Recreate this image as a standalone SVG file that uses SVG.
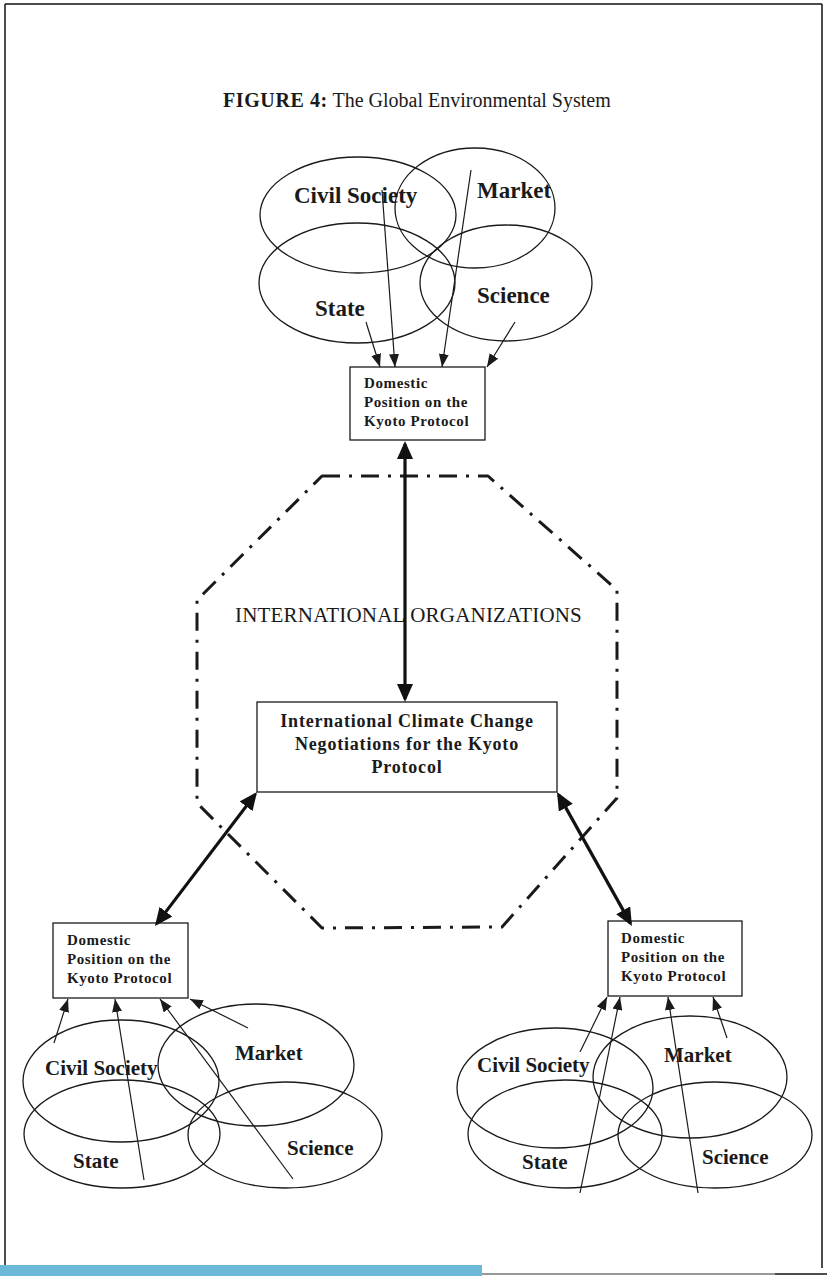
<svg xmlns="http://www.w3.org/2000/svg" width="827" height="1276" viewBox="0 0 827 1276">
<style>
.ell{fill:none;stroke:#1a1a1a;stroke-width:1.3}
.box{fill:#fff;stroke:#1a1a1a;stroke-width:1.3}
.thin{fill:none;stroke:#1a1a1a;stroke-width:1.2}
.thick{fill:none;stroke:#111;stroke-width:3.2}
.lbl{font-family:"Liberation Serif","Times New Roman",serif;font-weight:bold;fill:#1a1a1a}
.big{font-size:23px}
.small{font-size:21px}
.dom{font-family:"Liberation Serif","Times New Roman",serif;font-weight:bold;font-size:15px;letter-spacing:0.6px;fill:#1a1a1a}
.main{font-family:"Liberation Serif","Times New Roman",serif;font-weight:bold;font-size:18px;letter-spacing:0.8px;fill:#1a1a1a}
.io{font-family:"Liberation Serif","Times New Roman",serif;font-size:21px;letter-spacing:0.2px;fill:#1a1a1a}
.title{font-family:"Liberation Serif","Times New Roman",serif;font-size:20px;fill:#1a1a1a}
.oct{fill:none;stroke:#1a1a1a;stroke-width:3;stroke-dasharray:18 9 3 9;stroke-linejoin:round}
</style>
<defs>
<marker id="ah" markerUnits="userSpaceOnUse" markerWidth="13" markerHeight="10" refX="13" refY="5" orient="auto">
<path d="M0,0 L13,5 L0,10 z" fill="#1a1a1a"/>
</marker>
<marker id="bh" markerUnits="userSpaceOnUse" markerWidth="18" markerHeight="16" refX="15" refY="8" orient="auto-start-reverse">
<path d="M0,0 L18,8 L0,16 z" fill="#111"/>
</marker>
</defs>
<rect width="827" height="1276" fill="#fff"/>
<g id="page-frame">
<line x1="5" y1="4" x2="822" y2="4" stroke="#111" stroke-width="1.5"/>
<line x1="5" y1="4" x2="5" y2="1268" stroke="#111" stroke-width="1.5"/>
<line x1="822" y1="4" x2="822" y2="1268" stroke="#111" stroke-width="1.5"/>
<line x1="482" y1="1274" x2="775" y2="1274" stroke="#777" stroke-width="1.5"/>
<line x1="775" y1="1274" x2="827" y2="1274" stroke="#111" stroke-width="1.5"/>
<rect x="0" y="1265" width="482" height="11" fill="#6cb8d8"/>
</g>
<g id="title">
<text class="title" x="223" y="107"><tspan font-weight="bold" letter-spacing="0.6">FIGURE 4:</tspan>  The Global Environmental System</text>
</g>
<g id="io-octagon">
<path class="oct" d="M322,476 L488,476 L617,590 L617,798 L502,927 L322,928 L197,803 L197,600 Z"/>
<text class="io" x="235" y="622">INTERNATIONAL ORGANIZATIONS</text>
</g>
<g id="top-cluster">
<ellipse class="ell" cx="358" cy="215" rx="98" ry="58"/>
<ellipse class="ell" cx="475" cy="208" rx="80" ry="60"/>
<ellipse class="ell" cx="357" cy="283" rx="98" ry="60"/>
<ellipse class="ell" cx="506" cy="283" rx="86" ry="58"/>
<text class="lbl big" x="294" y="203">Civil Society</text>
<text class="lbl big" x="477" y="198">Market</text>
<text class="lbl big" x="315" y="316">State</text>
<text class="lbl big" x="477" y="303">Science</text>
</g>
<g id="top-domestic">
<rect class="box" x="350" y="367" width="135" height="73"/>
<text class="dom" x="364" y="388">Domestic</text>
<text class="dom" x="364" y="407">Position on the</text>
<text class="dom" x="364" y="426">Kyoto Protocol</text>
</g>
<g id="negotiations">
<rect class="box" x="257" y="702" width="300" height="90"/>
<text class="main" x="407" y="727" text-anchor="middle">International Climate Change</text>
<text class="main" x="407" y="750" text-anchor="middle">Negotiations for the Kyoto</text>
<text class="main" x="407" y="773" text-anchor="middle">Protocol</text>
</g>
<g id="left-domestic">
<rect class="box" x="53" y="923" width="135" height="75"/>
<text class="dom" x="67" y="945">Domestic</text>
<text class="dom" x="67" y="964">Position on the</text>
<text class="dom" x="67" y="983">Kyoto Protocol</text>
</g>
<g id="right-domestic">
<rect class="box" x="608" y="921" width="134" height="75"/>
<text class="dom" x="621" y="943">Domestic</text>
<text class="dom" x="621" y="962">Position on the</text>
<text class="dom" x="621" y="981">Kyoto Protocol</text>
</g>
<g id="left-cluster">
<ellipse class="ell" cx="121" cy="1081" rx="98" ry="61"/>
<ellipse class="ell" cx="256" cy="1065" rx="98" ry="61"/>
<ellipse class="ell" cx="122" cy="1134" rx="98" ry="54"/>
<ellipse class="ell" cx="285" cy="1135" rx="97" ry="53"/>
<text class="lbl small" x="45" y="1075">Civil Society</text>
<text class="lbl small" x="235" y="1060">Market</text>
<text class="lbl small" x="73" y="1168">State</text>
<text class="lbl small" x="287" y="1155">Science</text>
</g>
<g id="right-cluster">
<ellipse class="ell" cx="555" cy="1088" rx="98" ry="60"/>
<ellipse class="ell" cx="690" cy="1077" rx="97" ry="61"/>
<ellipse class="ell" cx="565" cy="1134" rx="97" ry="54"/>
<ellipse class="ell" cx="715" cy="1135" rx="97" ry="53"/>
<text class="lbl small" x="477" y="1072">Civil Society</text>
<text class="lbl small" x="664" y="1062">Market</text>
<text class="lbl small" x="522" y="1169">State</text>
<text class="lbl small" x="702" y="1164">Science</text>
</g>
<g id="connectors">
<line class="thin" x1="366" y1="322" x2="380" y2="367" marker-end="url(#ah)"/>
<line class="thin" x1="382" y1="190" x2="395" y2="367" marker-end="url(#ah)"/>
<line class="thin" x1="471" y1="170" x2="442" y2="367" marker-end="url(#ah)"/>
<line class="thin" x1="515" y1="322" x2="487" y2="367" marker-end="url(#ah)"/>
<line class="thick" x1="405" y1="444" x2="405" y2="699" marker-start="url(#bh)" marker-end="url(#bh)"/>
<line class="thick" x1="255.2" y1="794.4" x2="156.8" y2="923.6" marker-start="url(#bh)" marker-end="url(#bh)"/>
<line class="thick" x1="558.5" y1="794.6" x2="630.5" y2="923.4" marker-start="url(#bh)" marker-end="url(#bh)"/>
<line class="thin" x1="54" y1="1043" x2="68" y2="999" marker-end="url(#ah)"/>
<line class="thin" x1="144" y1="1180" x2="115" y2="999" marker-end="url(#ah)"/>
<line class="thin" x1="293" y1="1179" x2="160" y2="999" marker-end="url(#ah)"/>
<line class="thin" x1="248" y1="1028" x2="190" y2="999" marker-end="url(#ah)"/>
<line class="thin" x1="580" y1="1052" x2="607" y2="997" marker-end="url(#ah)"/>
<line class="thin" x1="580" y1="1193" x2="620" y2="997" marker-end="url(#ah)"/>
<line class="thin" x1="698" y1="1193" x2="668" y2="997" marker-end="url(#ah)"/>
<line class="thin" x1="727" y1="1038" x2="713" y2="997" marker-end="url(#ah)"/>
</g>
</svg>
